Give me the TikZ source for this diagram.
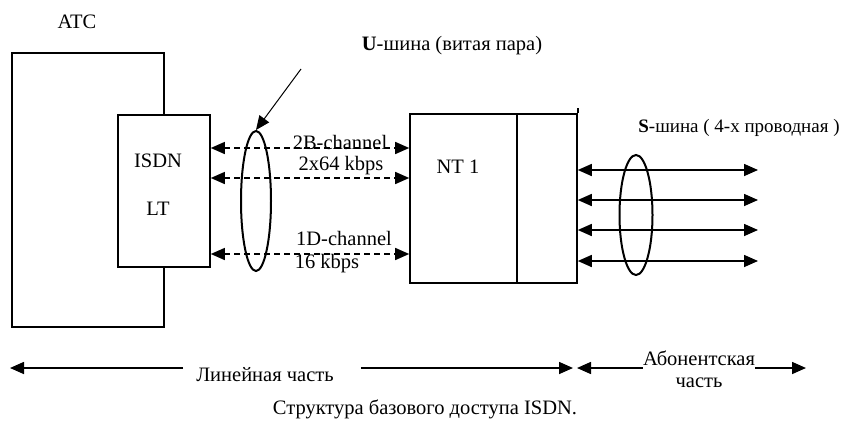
\documentclass[tikz,border=0pt]{standalone}
\usepackage{fontspec}
\setmainfont{Liberation Serif}
\usetikzlibrary{arrows.meta, positioning, shapes.geometric}

\begin{document}
\begin{tikzpicture}[x=1pt, y=-1pt,
  box/.style={draw, line width=1.6pt, inner sep=0pt},
  lbl/.style={font=\fontsize{20.5}{22}\selectfont, inner sep=0pt},
  tip/.style={-{Triangle[length=14pt,width=12pt]}},
  both/.style={{Triangle[length=14pt,width=12pt]}-{Triangle[length=14pt,width=12pt]}},
  wire/.style={draw, line width=2pt, ellipse, inner sep=0pt}]

\useasboundingbox (0,0) rectangle (844,434);

% ATC with the line terminal
\node[box, minimum width=152pt, minimum height=274pt] (atc) at (88,190) {};
\node[lbl] (atclabel) at (77,22) {ATC};
\node[box, fill=white, minimum width=92pt, minimum height=152pt] (lt) at (164,191) {};
\node[lbl] (isdn) at (158,161) {ISDN};
\node[lbl] (ltlabel) at (158,209) {LT};

% NT1
\node[box, minimum width=167pt, minimum height=169pt] (nt) at (493.5,198.5) {};
\draw[line width=1.6pt] (nt.north -| 517,0) -- (nt.south -| 517,0);
\draw[line width=1.6pt] (nt.north east) -- ++(0,-5);
\node[lbl] (ntlabel) at (458,167) {NT 1};

% U-bus
\draw[both, dashed, dash pattern=on 6pt off 4pt, line width=1.4pt] (lt.east |- 0,148) -- (nt.west |- 0,148);
\draw[both, dashed, dash pattern=on 6pt off 4pt, line width=1.4pt] (lt.east |- 0,178) -- (nt.west |- 0,178);
\draw[both, dashed, dash pattern=on 6pt off 4pt, line width=1.4pt] (lt.east |- 0,254) -- (nt.west |- 0,254);
\node[lbl] (bch) at (340,142) {2B-channel};
\node[lbl] (bsp) at (341,166) {2x64 kbps};
\node[lbl] (dch) at (344,238) {1D-channel};
\node[lbl] (dsp) at (327,264) {16 kbps};

\node[wire, minimum width=30pt, minimum height=140pt] (ubus) at (256,201) {};
\coordinate (ptr) at (301,69);
\draw[tip, line width=1pt] (ptr) -- (ubus.north);
\node[lbl] (ulabel) at (452,46) {\textbf{U}-шина (витая пара)};

% S-bus
\foreach \i/\y in {1/170, 2/200, 3/230, 4/261} {
  \coordinate (s\i) at (758,\y);
  \draw[both, line width=1.6pt] (nt.east |- s\i) -- (s\i);
}
\node[wire, minimum width=33pt, minimum height=120pt] (sbus) at (636,215) {};
\node[lbl, font=\fontsize{19}{22}\selectfont] (slabel) at (739,128) {\textbf{S}-шина ( 4-х проводная )};

% parts
\coordinate (linL) at (10,368);
\coordinate (linR) at (573,368);
\coordinate (abL) at (577,368);
\coordinate (abR) at (806,368);
\node[lbl] (lin) at (265,375) {Линейная часть};
\node[lbl, align=center] (abon) at (699,369) {Абонентская\\часть};
\draw[tip, line width=1.6pt] (lin.west |- linL) ++(-13,0) -- (linL);
\draw[tip, line width=1.6pt] (lin.east |- linL) ++(27,0) -- (linR);
\draw[tip, line width=1.6pt] (abon.west |- abL) -- (abL);
\draw[tip, line width=1.6pt] (abon.east |- abR) -- (abR);

\node[lbl] (caption) at (425,409) {Структура базового доступа ISDN.};
\end{tikzpicture}
\end{document}
